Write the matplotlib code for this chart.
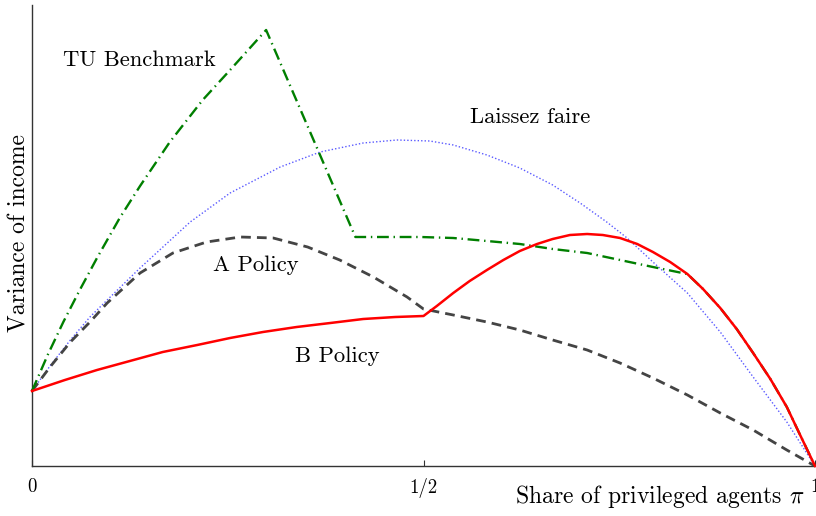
import matplotlib
matplotlib.use("Agg")
import matplotlib.pyplot as plt

plt.rcParams['font.family'] = ['cmr10', 'DejaVu Serif']
plt.rcParams['mathtext.fontset'] = 'cm'
plt.rcParams['axes.unicode_minus'] = False

# Laissez faire (blue dotted)
lf_x = [0, 0.023, 0.049, 0.074, 0.096, 0.138, 0.202, 0.253, 0.317, 0.368, 0.423, 0.466, 0.508,
        0.538, 0.581, 0.623, 0.665, 0.700, 0.734, 0.760, 0.793, 0.837, 0.879, 0.921, 0.964, 1.0]
lf_y = [0.75, 1.00, 1.26, 1.49, 1.66, 1.98, 2.44, 2.73, 2.99, 3.14, 3.23, 3.26, 3.25,
        3.21, 3.11, 2.98, 2.81, 2.63, 2.44, 2.28, 2.04, 1.73, 1.34, 0.89, 0.44, 0.0]

# A Policy (grey dashed)
a_x = [0, 0.023, 0.049, 0.074, 0.096, 0.138, 0.180, 0.223, 0.266, 0.308, 0.352, 0.393, 0.436, 0.479, 0.5,
       0.538, 0.581, 0.623, 0.665, 0.709, 0.751, 0.793, 0.837, 0.879, 0.921, 0.964, 1.0]
a_y = [0.75, 0.99, 1.24, 1.44, 1.63, 1.93, 2.13, 2.24, 2.29, 2.28, 2.19, 2.06, 1.89, 1.69, 1.57,
       1.51, 1.44, 1.36, 1.26, 1.16, 1.03, 0.88, 0.71, 0.53, 0.36, 0.16, 0.0]

# B Policy (red solid)
b_x = [0, 0.042, 0.083, 0.125, 0.167, 0.211, 0.253, 0.295, 0.338, 0.381, 0.423, 0.464, 0.5,
       0.517, 0.538, 0.559, 0.581, 0.602, 0.623, 0.645, 0.665, 0.687, 0.709, 0.729, 0.751, 0.773,
       0.793, 0.815, 0.837, 0.857, 0.879, 0.900, 0.921, 0.943, 0.964, 0.981, 1.0]
b_y = [0.75, 0.86, 0.96, 1.05, 1.14, 1.21, 1.28, 1.34, 1.39, 1.43, 1.47, 1.49, 1.50,
       1.60, 1.73, 1.85, 1.96, 2.06, 2.15, 2.22, 2.27, 2.31, 2.32, 2.31, 2.28, 2.22,
       2.14, 2.04, 1.92, 1.77, 1.58, 1.37, 1.13, 0.87, 0.59, 0.31, 0.0]

# TU Benchmark (green dash-dot)
tu_x = [0, 0.020, 0.040, 0.061, 0.083, 0.112, 0.138, 0.176, 0.218, 0.253, 0.299, 0.413,
        0.496, 0.538, 0.581, 0.623, 0.665, 0.709, 0.751, 0.793, 0.837, 0.857, 0.879, 0.900,
        0.921, 0.943, 0.964, 0.981, 1.0]
tu_y = [0.75, 1.11, 1.44, 1.76, 2.08, 2.48, 2.80, 3.24, 3.66, 3.96, 4.36, 2.29,
        2.29, 2.28, 2.25, 2.22, 2.17, 2.13, 2.06, 1.99, 1.92, 1.77, 1.58, 1.37,
        1.13, 0.87, 0.59, 0.31, 0.0]

x_ticks = [0, 0.5, 1]
x_ticklabels = ['0', '1/2', '1']

fig = plt.figure(figsize=(8.16, 5.16), dpi=100)
ax = fig.add_axes([32/816, 50/516, 783/816, 461/516])

ax.plot(lf_x, lf_y, color='#5a5aff', lw=1.0, ls=(0, (1, 1.5)), clip_on=False, zorder=2)
ax.plot(a_x, a_y, color='#444444', lw=2.0, ls=(0, (3.5, 2.2)), clip_on=False, zorder=3)
ax.plot(tu_x, tu_y, color='#007f00', lw=1.7, ls=(0, (5, 2, 0.6, 2)), clip_on=False, zorder=3)
ax.plot(b_x, b_y, color='#ff0000', lw=1.8, clip_on=False, zorder=4)

ax.set_xlim(0, 1)
ax.set_ylim(0, 4.61)

for s in ['top', 'right']:
    ax.spines[s].set_visible(False)
for s in ['left', 'bottom']:
    ax.spines[s].set_color('#333333')
    ax.spines[s].set_linewidth(1.0)

ax.set_yticks([])
ax.set_xticks(x_ticks)
ax.set_xticklabels(x_ticklabels, fontsize=13.5)
ax.tick_params(axis='x', direction='in', length=4, width=0.8, colors='#333333', labelcolor='black', pad=9)

fs = 16.3
ax.text(0.040, 4.06, 'TU Benchmark', fontsize=fs, ha='left', va='center')
ax.text(0.559, 3.49, 'Laissez faire', fontsize=fs, ha='left', va='center')
ax.text(0.231, 2.01, 'A Policy', fontsize=fs, ha='left', va='center')
ax.text(0.336, 1.10, 'B Policy', fontsize=fs, ha='left', va='center')

fig.text(805/816, 1 - 497/516, r'Share of privileged agents $\pi$', fontsize=17, ha='right', va='center')
fig.text(19/816, 1 - 332/516, 'Variance of income', fontsize=17, rotation=90, ha='center', va='bottom')

fig.savefig('out.png', dpi=100)
